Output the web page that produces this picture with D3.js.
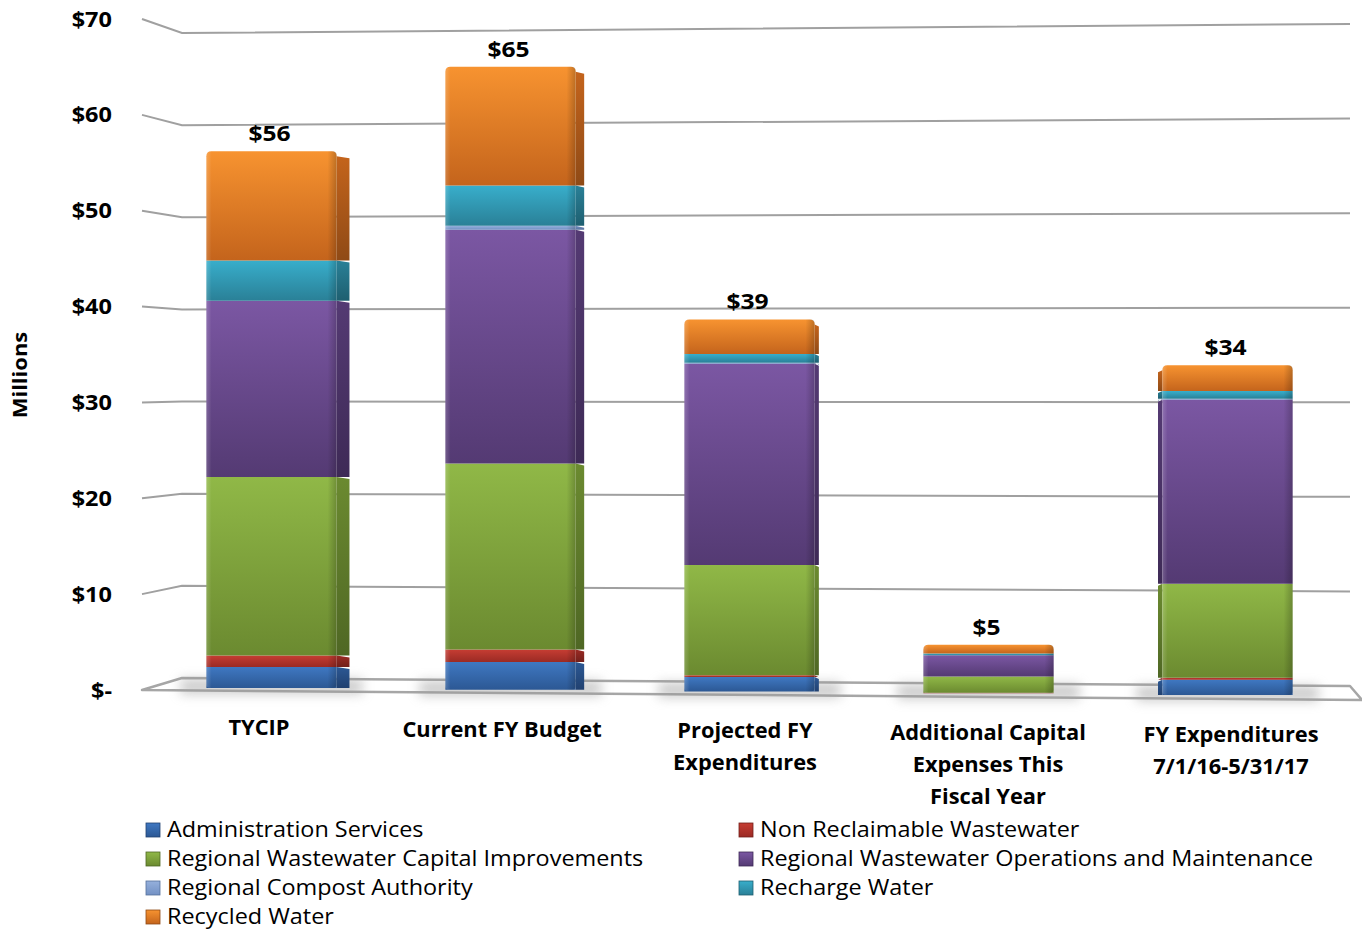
<!DOCTYPE html>
<html>
<head>
<meta charset="utf-8">
<script src="https://cdn.jsdelivr.net/npm/d3@7"></script>
<style>
  html, body { margin: 0; padding: 0; background: #fff; }
  svg { display: block; font-family: "Open Sans", "DejaVu Sans", sans-serif; }
</style>
</head>
<body>
<svg id="chart" width="1362" height="930"></svg>
<script>
// Budget categories (x axis)
const categories = [
  "TYCIP",
  "Current FY Budget",
  "Projected FY Expenditures",
  "Additional Capital Expenses This Fiscal Year",
  "FY Expenditures 7/1/16-5/31/17"
];
const categoryLines = [
  ["TYCIP"],
  ["Current FY Budget"],
  ["Projected FY", "Expenditures"],
  ["Additional Capital", "Expenses This", "Fiscal Year"],
  ["FY Expenditures", "7/1/16-5/31/17"]
];

// Series, in stacking order (bottom to top), values in $ millions
const seriesNames = [
  "Administration Services",
  "Non Reclaimable Wastewater",
  "Regional Wastewater Capital Improvements",
  "Regional Wastewater Operations and Maintenance",
  "Regional Compost Authority",
  "Recharge Water",
  "Recycled Water"
];
const administration   = [2.2, 2.9, 1.5, 0.0, 1.6];
const nonReclaimable   = [1.2, 1.3, 0.2, 0.05, 0.2];
const capitalImprov    = [18.6, 19.4, 11.5, 1.7, 9.8];
const operationsMaint  = [18.4, 24.4, 21.0, 2.2, 19.2];
const compostAuthority = [0.0, 0.4, 0.1, 0.0, 0.1];
const rechargeWater    = [4.2, 4.2, 0.9, 0.2, 0.8];
const recycledWater    = [11.4, 12.4, 3.6, 0.9, 2.7];
const seriesValues = [administration, nonReclaimable, capitalImprov, operationsMaint,
                      compostAuthority, rechargeWater, recycledWater];

// Axis ticks
const tickValues = [0, 10, 20, 30, 40, 50, 60, 70];
const tickLabels = ["$-", "$10", "$20", "$30", "$40", "$50", "$60", "$70"];

// Shading per series: [light top, dark bottom, side]
const seriesColors = [
  ["#3f78c2", "#2c5894", "#214170"],
  ["#c63d33", "#9b2a24", "#72201b"],
  ["#90b847", "#6b8a30", "#4f6724"],
  ["#7b57a3", "#543a73", "#3e2a56"],
  ["#95b0dc", "#7391c4", "#56709c"],
  ["#38aecb", "#2a8097", "#1e5f70"],
  ["#f79330", "#c4641c", "#8f4a16"]
];

const svg = d3.select("#chart");
const defs = svg.append("defs");

// Vertical gradients for front faces and side faces
seriesColors.forEach((c, i) => {
  const g = defs.append("linearGradient").attr("id", "front" + i)
    .attr("x1", 0).attr("y1", 0).attr("x2", 0).attr("y2", 1);
  g.append("stop").attr("offset", "0%").attr("stop-color", c[0]);
  g.append("stop").attr("offset", "100%").attr("stop-color", c[1]);
  const s = defs.append("linearGradient").attr("id", "side" + i)
    .attr("x1", 0).attr("y1", 0).attr("x2", 0).attr("y2", 1);
  s.append("stop").attr("offset", "0%").attr("stop-color", c[1]);
  s.append("stop").attr("offset", "100%").attr("stop-color", c[2]);
});
// Bevel overlay across the front face
const bevel = defs.append("linearGradient").attr("id", "bevel")
  .attr("x1", 0).attr("y1", 0).attr("x2", 1).attr("y2", 0);
[["0%", "#fff", 0.18], ["4%", "#fff", 0.0], ["93%", "#000", 0.0], ["100%", "#000", 0.22]]
  .forEach(([o, c, a]) => bevel.append("stop").attr("offset", o).attr("stop-color", c).attr("stop-opacity", a));
defs.append("filter").attr("id", "shadowBlur").attr("x", "-50%").attr("y", "-200%")
  .attr("width", "200%").attr("height", "500%")
  .append("feGaussianBlur").attr("stdDeviation", 6);

// Scales: front (labels), back wall at left and right ends
const yFront = d3.scaleLinear().domain([0, 70]).range([690, 19]);
const yBack = d3.scaleLinear().domain([0, 70]).range([678, 33]);
const yRight = d3.scaleLinear().domain([0, 70]).range([686, 24]);
const x = d3.scaleBand().domain(categories).range([152, 1347])
  .paddingInner(0.455).paddingOuter(0.2275);
// category labels sit on the front edge of the floor
const xLabel = d3.scalePoint().domain(categories).range([259, 1231]);

const xFront = 142, xBack = 182, xEnd = 1350;
// slight perspective tilt of the floor across the chart
const tilt = cx => (cx - 272) * 0.0073 - 2;

// Floor slab
svg.append("polygon")
  .attr("points", [[xFront, yFront(0)], [xBack, yBack(0)], [xEnd, yRight(0)], [1362, 700]].join(" "))
  .attr("fill", "#fff").attr("stroke", "#a6a6a6").attr("stroke-width", 2.5)
  .attr("stroke-linejoin", "round");

// Gridlines
const grid = svg.append("g").attr("fill", "none").attr("stroke", "#a0a0a0").attr("stroke-width", 2);
tickValues.filter(v => v > 0).forEach(v => {
  grid.append("polyline")
    .attr("points", [[xFront, yFront(v)], [xBack, yBack(v)], [xEnd, yRight(v)]].join(" "));
});

// Tick labels
svg.append("g").selectAll("text").data(tickValues).join("text")
  .attr("transform", d => `translate(112,${yFront(d) + 2}) scale(1.12,1)`)
  .attr("text-anchor", "end").attr("dominant-baseline", "middle")
  .attr("font-size", 21).attr("font-weight", "bold").attr("fill", "#000")
  .text((d, i) => tickLabels[i]);

// Axis title
svg.append("text")
  .attr("transform", "translate(27,375) rotate(-90) scale(1.1,1)")
  .attr("text-anchor", "middle")
  .attr("font-size", 20).attr("font-weight", "bold").text("Millions");

// Stacked bars
const table = categories.map((c, i) => {
  const row = { category: c };
  seriesNames.forEach((s, j) => row[s] = seriesValues[j][i]);
  return row;
});
const stacked = d3.stack().keys(seriesNames)(table);
const totals = categories.map((c, i) => d3.sum(seriesValues, s => s[i]));

const bw = x.bandwidth();
const vanishX = 985;
const bars = svg.append("g");

categories.forEach((cat) => {
  const x0 = x(cat), cx = x0 + bw / 2, dy = tilt(cx);
  // floor shadow
  bars.append("rect")
    .attr("x", x0 - 26).attr("y", yFront(0) + dy - 9)
    .attr("width", bw + 52).attr("height", 15)
    .attr("fill", "#9a9a9a").attr("opacity", 0.5)
    .attr("filter", "url(#shadowBlur)");
});

categories.forEach((cat, i) => {
  const x0 = x(cat), cx = x0 + bw / 2, dy = tilt(cx);
  const side = (vanishX - cx) * 0.018;
  const g = bars.append("g");
  const topIdx = d3.max(stacked.filter(s => s[i][1] - s[i][0] > 0), s => s.index);
  stacked.forEach((s, j) => {
    const lo = s[i][0], hi = s[i][1];
    if (hi - lo <= 0) return;
    const yt = yFront(hi) + dy, yb = yFront(lo) + dy;
    const r = j === topIdx ? 5 : 0;
    // side face
    if (Math.abs(side) > 0.5) {
      const sx = side > 0 ? x0 + bw : x0;
      g.append("path")
        .attr("d", `M${sx},${yt + r}L${sx + side},${yt + r + 2}L${sx + side},${yb}L${sx},${yb}Z`)
        .attr("fill", `url(#side${j})`);
    }
    // front face (rounded top on the uppermost segment)
    g.append("path")
      .attr("d", `M${x0},${yb}L${x0},${yt + r}Q${x0},${yt} ${x0 + r},${yt}` +
        `L${x0 + bw - r},${yt}Q${x0 + bw},${yt} ${x0 + bw},${yt + r}L${x0 + bw},${yb}Z`)
      .attr("fill", `url(#front${j})`);
  });
  // bevel overlay
  const yTop = yFront(totals[i]) + dy, yBot = yFront(0) + dy;
  g.append("rect").attr("x", x0).attr("y", yTop).attr("width", bw).attr("height", yBot - yTop)
    .attr("rx", 4).attr("fill", "url(#bevel)");
  // total label
  svg.append("text")
    .attr("transform", `translate(${cx - 2},${yTop - 16}) scale(1.12,1)`)
    .attr("text-anchor", "middle").attr("dominant-baseline", "middle")
    .attr("font-size", 22).attr("font-weight", "bold")
    .text("$" + d3.format(".0f")(totals[i]));
  // category label
  const t = svg.append("text").attr("text-anchor", "middle")
    .attr("transform", `translate(${xLabel(cat)},${737 + dy}) scale(1.04,1)`)
    .attr("font-size", 21).attr("font-weight", "bold");
  categoryLines[i].forEach((line, k) => {
    t.append("tspan").attr("x", 0).attr("y", k * 32).text(line);
  });
});

// Legend
const legend = svg.append("g");
seriesNames.forEach((name, j) => {
  const col = j % 2, row = Math.floor(j / 2);
  const lx = col === 0 ? 146 : 739, ly = 830 + row * 29;
  legend.append("rect").attr("x", lx).attr("y", ly - 7).attr("width", 14).attr("height", 14)
    .attr("fill", `url(#front${j})`).attr("stroke", seriesColors[j][2]).attr("stroke-width", 0.8);
  legend.append("text")
    .attr("transform", `translate(${lx + 21},${ly + 1}) scale(1.115,1)`)
    .attr("dominant-baseline", "middle").attr("font-size", 21).attr("fill", "#000")
    .text(name);
});
</script>
</body>
</html>
